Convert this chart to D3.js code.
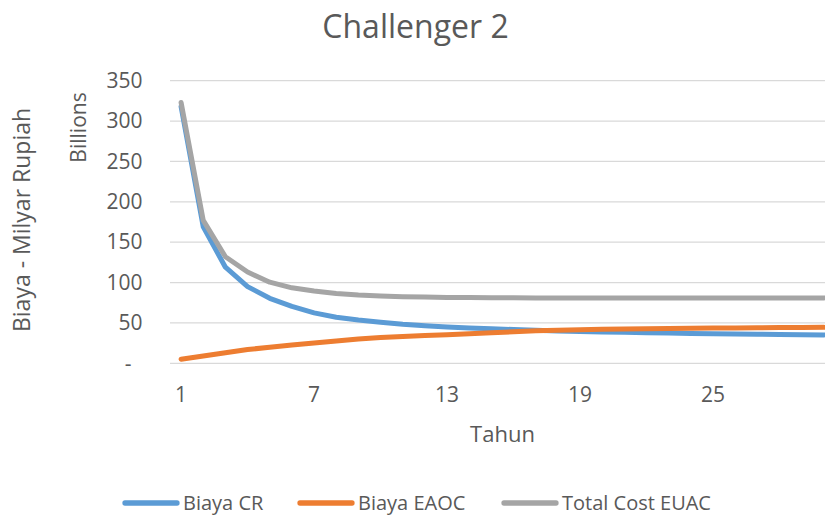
<!DOCTYPE html>
<html>
<head>
<meta charset="utf-8">
<script src="https://cdn.jsdelivr.net/npm/d3@7"></script>
<style>
  html, body { margin: 0; padding: 0; background: #fff; }
  svg { display: block; font-family: "Open Sans", "Noto Sans", sans-serif; }
</style>
</head>
<body>
<svg id="chart" width="825" height="516"></svg>
<script>
// Year index (Tahun) 1..30
const years = d3.range(1, 31);

// Annual costs in billions of rupiah
const biayaCR = [318, 169, 119, 95, 80.5, 70.5, 62.5, 57, 53.5, 50.8,
                 48.3, 46.5, 45, 43.8, 42.7, 41.8, 40.8, 40, 39.4, 38.8,
                 38.3, 37.8, 37.4, 37, 36.6, 36.3, 36, 35.7, 35.4, 35.2];
const biayaEAOC = [5, 9, 13, 17, 20, 22.8, 25, 27.5, 30, 32,
                   33.3, 34.5, 35.5, 36.6, 37.8, 39, 40.2, 41, 41.6, 42.1,
                   42.5, 42.8, 43.1, 43.4, 43.6, 43.8, 44, 44.2, 44.4, 44.5];
const totalEUAC = [323, 177, 132, 113, 100.5, 93.5, 89.5, 86.5, 84.5, 83.3,
                   82.5, 82, 81.6, 81.4, 81.2, 81.1, 81, 81, 81, 81,
                   81, 81, 81, 81, 81, 81, 81, 81, 81, 81];

const yTicks = [0, 50, 100, 150, 200, 250, 300, 350];
const xTickYears = [1, 7, 13, 19, 25];

const seriesNames = ["Biaya CR", "Biaya EAOC", "Total Cost EUAC"];
const seriesValues = [biayaCR, biayaEAOC, totalEUAC];
const seriesColors = ["#5B9BD5", "#ED7D31", "#A5A5A5"];

const textColor = "#595959";
const svg = d3.select("#chart");

const plot = { left: 170, right: 835, top: 80.7, bottom: 363.3 };

const x = d3.scaleBand().domain(years).range([plot.left, plot.right]);
const xc = d => x(d) + x.bandwidth() / 2;
const y = d3.scaleLinear().domain([0, 350]).range([plot.bottom, plot.top]);

// Horizontal gridlines
svg.append("g")
  .selectAll("line")
  .data(yTicks)
  .join("line")
  .attr("x1", plot.left).attr("x2", plot.right)
  .attr("y1", d => y(d)).attr("y2", d => y(d))
  .attr("stroke", "#d9d9d9").attr("stroke-width", 1.3);

// Y axis (labels only; accounting style dash for zero)
const yAxis = d3.axisLeft(y)
  .tickValues(yTicks)
  .tickSize(0)
  .tickPadding(0)
  .tickFormat(d => d === 0 ? "-" : d3.format("d")(d));
const gy = svg.append("g").attr("transform", "translate(142.5,0)").call(yAxis);
gy.select(".domain").remove();
gy.selectAll("text")
  .attr("fill", textColor)
  .style("font-size", "21px")
  .style("font-family", "'Open Sans', sans-serif")
  .attr("dx", d => d === 0 ? -11 : 0);

// X axis (labels only)
const xAxis = d3.axisBottom(x)
  .tickValues(xTickYears)
  .tickSize(0)
  .tickPadding(0);
const gx = svg.append("g").attr("transform", `translate(0,${plot.bottom})`).call(xAxis);
gx.select(".domain").remove();
gx.selectAll("text")
  .attr("fill", textColor)
  .attr("dy", 0)
  .attr("y", 39)
  .style("font-size", "21px")
  .style("font-family", "'Open Sans', sans-serif");

// Series lines: CR first, then EAOC, total on top
const line = d3.line()
  .x((d, i) => xc(years[i]))
  .y(d => y(d));

svg.append("g")
  .selectAll("path")
  .data(seriesValues)
  .join("path")
  .attr("d", d => line(d))
  .attr("fill", "none")
  .attr("stroke", (d, i) => seriesColors[i])
  .attr("stroke-width", 5)
  .attr("stroke-linejoin", "round")
  .attr("stroke-linecap", "round");

// Title
svg.append("text")
  .attr("x", 415.5).attr("y", 38)
  .attr("text-anchor", "middle")
  .attr("fill", textColor)
  .style("font-size", "32px")
  .text("Challenger 2");

// Axis titles
svg.append("text")
  .attr("transform", "translate(30,220) rotate(-90)")
  .attr("text-anchor", "middle")
  .attr("fill", textColor)
  .style("font-size", "23px")
  .text("Biaya - Milyar Rupiah");

svg.append("text")
  .attr("transform", "translate(86,127.5) rotate(-90)")
  .attr("text-anchor", "middle")
  .attr("fill", textColor)
  .style("font-size", "21px")
  .text("Billions");

svg.append("text")
  .attr("x", (plot.left + plot.right) / 2).attr("y", 442)
  .attr("text-anchor", "middle")
  .attr("fill", textColor)
  .style("font-size", "22px")
  .text("Tahun");

// Legend
const legendStarts = [123, 298, 502];
const legend = svg.append("g");
seriesNames.forEach((name, i) => {
  const g = legend.append("g").attr("transform", `translate(${legendStarts[i]},503)`);
  g.append("line")
    .attr("x1", 2).attr("x2", 54)
    .attr("y1", 0).attr("y2", 0)
    .attr("stroke", seriesColors[i])
    .attr("stroke-width", 5.3)
    .attr("stroke-linecap", "round");
  g.append("text")
    .attr("x", 60).attr("y", 7)
    .attr("fill", textColor)
    .style("font-size", "20px")
    .text(name);
});
</script>
</body>
</html>
